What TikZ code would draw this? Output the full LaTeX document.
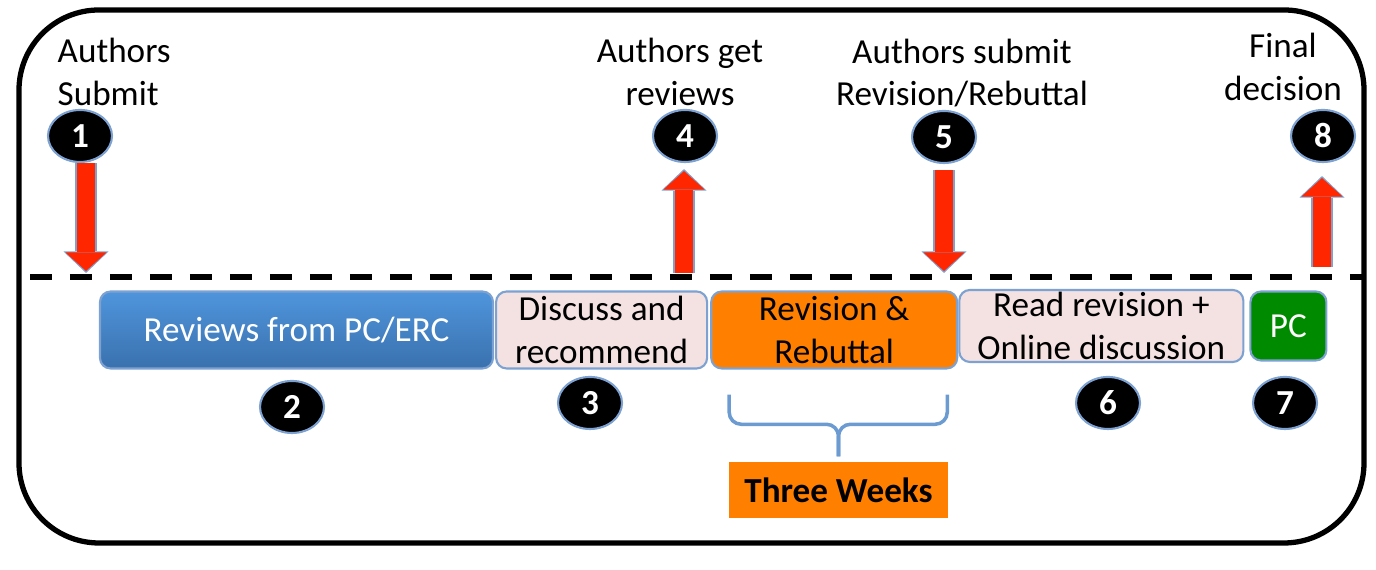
\documentclass[tikz,border=0pt]{standalone}
\usepackage{fontspec}
\setmainfont{Carlito}
\usetikzlibrary{arrows.meta,positioning,shapes.geometric,calc}
\definecolor{framedark}{HTML}{000000}
\definecolor{rimblue}{HTML}{7DA2D2}
\definecolor{reviewtop}{HTML}{4F95DC}
\definecolor{reviewbot}{HTML}{3A71AE}
\definecolor{discusspink}{HTML}{F3E2E1}
\definecolor{rebutorange}{HTML}{FF7F00}
\definecolor{pcgreen}{HTML}{008A00}
\definecolor{arrowred}{HTML}{FF2600}
\definecolor{braceblue}{HTML}{6C9BD2}
\tikzset{
  every node/.style={font=\fontsize{10pt}{12pt}\selectfont},
  outerframe/.style={draw=framedark, line width=1.5pt, rounded corners=0.8cm},
  timeline/.style={draw=black, line width=1.5pt, dash pattern=on 0.22cm off 0.18cm},
  stepnum/.style={
    ellipse, fill=black, draw=rimblue, line width=0.6pt,
    minimum width=0.64cm, minimum height=0.52cm, inner sep=0pt,
    text=white, font=\fontsize{10pt}{12pt}\selectfont\bfseries
  },
  phase/.style={
    rectangle, rounded corners=3pt, draw=rimblue, line width=0.6pt,
    minimum height=0.77cm, align=center, inner sep=0pt
  },
  milestone/.style={align=center, inner sep=0pt},
  arrowrim/.style={draw=rimblue, line width=0.22cm,
    -{Triangle[width=0.45cm,length=0.215cm,line width=0pt]}},
  arrowcore/.style={draw=arrowred, line width=0.18cm, shorten >=0.02cm,
    -{Triangle[width=0.41cm,length=0.185cm,line width=0pt]}},
  bracket/.style={draw=braceblue, line width=1pt, rounded corners=0.12cm}
}
\newcommand{\blockarrow}[2]{
  \draw[arrowrim] #1 -- #2;
  \draw[arrowcore] #1 -- #2;
}

\begin{document}
\begin{tikzpicture}[node distance=0.01cm]
\useasboundingbox (0,0) rectangle (13.76,5.70);
\draw[outerframe] (0.19,5.60) rectangle (13.64,0.27);
\coordinate (tlwest) at (0.30,2.93);
\coordinate (tleast) at (13.62,2.93);
\draw[timeline] (tlwest) -- (tleast);
% milestones above the line
\node[milestone, anchor=west, align=left] (lab1) at (0.57,4.98) {Authors\\Submit};
\node[milestone] (lab4) at (6.80,4.98) {Authors get\\reviews};
\node[milestone] (lab5) at (9.62,4.97) {Authors submit\\Revision/Rebuttal};
\node[milestone] (lab8) at (12.83,5.03) {Final\\decision};
\node[stepnum] (n1) at (0.80,4.34) {1};
\node[stepnum] (n4) at (6.85,4.34) {4};
\node[stepnum] (n5) at (9.44,4.33) {5};
\node[stepnum] (n8) at (13.23,4.34) {8};
\coordinate (t1) at (0.86,2.97);
\coordinate (t4) at (6.84,2.97);
\coordinate (t5) at (9.44,2.97);
\coordinate (t8) at (13.22,3.03);
\blockarrow{(n1.south -| t1)}{(t1)}
\blockarrow{(t4)}{([yshift=-0.06cm]n4.south -| t4)}
\blockarrow{([yshift=-0.06cm]n5.south -| t5)}{(t5)}
\blockarrow{(t8)}{([yshift=-0.13cm]n8.south -| t8)}
% phases below the line
\node[phase, minimum width=3.93cm, top color=reviewtop, bottom color=reviewbot, text=white] (b2) at (2.965,2.40) {Reviews from PC/ERC};
\node[phase, minimum width=2.11cm, fill=discusspink, right=of b2] (b3) {Discuss and\\recommend};
\node[phase, minimum width=2.46cm, fill=rebutorange, right=0.02cm of b3] (b5) {Revision \&\\Rebuttal};
\node[phase, minimum width=2.84cm, minimum height=0.72cm, fill=discusspink, right=0cm of b5, yshift=0.04cm] (b6) {Read revision +\\Online discussion};
\node[phase, minimum width=0.76cm, minimum height=0.69cm, fill=pcgreen, text=white, right=0.05cm of b6] (b7) {PC};
\node[stepnum] (n2) at (2.92,1.63) {2};
\node[stepnum] (n3) at (5.90,1.67) {3};
\node[stepnum] (n6) at (11.08,1.67) {6};
\node[stepnum] (n7) at (12.85,1.67) {7};
% three weeks span
\node[fill=rebutorange, minimum width=2.19cm, minimum height=0.56cm, inner sep=0pt, font=\fontsize{10pt}{12pt}\selectfont\bfseries] (weeks) at (8.385,0.80) {Three Weeks};
\coordinate (bl) at ($(b5.south west)+(0.19,-0.25)$);
\coordinate (br) at ($(b5.south east)+(-0.11,-0.25)$);
\coordinate (bm) at ($(weeks.north)+(0,0.05)$);
\draw[bracket] (bl) |- ($(bm)+(0,0.32)$) -- (bm);
\draw[bracket] (br) |- ($(bm)+(0,0.32)$) -- (bm);
\end{tikzpicture}
\end{document}
